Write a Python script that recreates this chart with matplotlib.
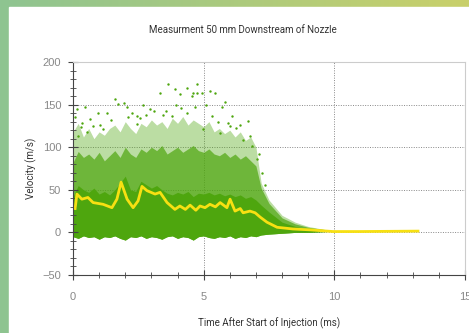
import numpy as np
import matplotlib
matplotlib.use('Agg')
import matplotlib.pyplot as plt
from matplotlib.colors import LinearSegmentedColormap
from matplotlib.patches import Rectangle

# mean velocity (yellow line)
mean_t = [0.08, 0.15, 0.34, 0.57, 0.77, 1.15, 1.49, 1.68, 1.84, 2.07, 2.30, 2.49,
          2.64, 2.83, 3.14, 3.33, 3.60, 3.90, 4.09, 4.30, 4.48, 4.70, 4.86, 5.05,
          5.24, 5.45, 5.63, 5.89, 6.01, 6.20, 6.40, 6.51, 6.77, 6.97, 7.16, 7.42,
          7.81, 8.42, 9.07, 9.95, 10.98, 13.2]
mean_v = [28, 45, 39, 41, 35, 33, 29, 39, 59, 39, 29, 37,
          54, 49, 45, 47, 35, 27, 31, 27, 32, 26, 31, 29,
          33, 30, 35, 29, 39, 25, 28, 23, 25, 23, 18, 12,
          6, 4, 3, 1, 1, 1.5]

# envelope of the measured point cloud
band_t = [0, 0.2, 0.4, 0.6, 0.8, 1.0, 1.2, 1.4, 1.6, 1.8, 2.0, 2.2, 2.4, 2.6, 2.8,
          3.0, 3.2, 3.4, 3.6, 3.8, 4.0, 4.2, 4.4, 4.6, 4.8, 5.0, 5.2, 5.4, 5.6,
          5.8, 6.0, 6.2, 6.4, 6.6, 6.8, 7.0, 7.2, 7.5, 8.0, 8.5, 9.0, 9.7]
band_lo = [-5, -7, -4, -6, -5, -8, -5, -6, -4, -7, -9, -5, -6, -4, -7,
           -5, -6, -8, -5, -4, -7, -5, -6, -9, -5, -4, -6, -7, -5,
           -6, -4, -7, -5, -6, -4, -5, -3, -2, -1, 0, 0, 1]
core_hi = [42, 55, 50, 47, 52, 45, 48, 44, 50, 58, 66, 50, 48, 60, 56,
           52, 55, 50, 46, 44, 47, 45, 48, 42, 46, 45, 47, 44, 46,
           43, 45, 42, 44, 40, 42, 38, 32, 24, 12, 7, 4, 2]
mid_hi = [82, 95, 88, 92, 86, 94, 84, 90, 96, 88, 100, 92, 88, 98, 94,
          100, 96, 102, 92, 96, 100, 94, 98, 102, 96, 94, 98, 92, 90,
          94, 88, 92, 86, 90, 84, 78, 52, 34, 17, 10, 6, 3]
outer_hi = [118, 128, 112, 122, 110, 118, 114, 122, 126, 118, 130, 122, 116, 128, 124,
            132, 126, 130, 122, 134, 128, 136, 126, 132, 128, 124, 130, 118, 122,
            116, 120, 112, 118, 108, 112, 100, 58, 38, 20, 12, 7, 3]

# sparse high-velocity points
pts_t = [0.14, 0.08, 0.46, 0.65, 0.77, 1.61, 1.72, 2.05, 2.10, 2.44, 2.68, 2.95,
         3.33, 3.64, 3.90, 4.09, 4.35, 4.54, 4.73, 3.56, 3.80, 4.35, 2.44, 1.15,
         0.20, 4.73, 4.60, 4.93, 5.24, 5.43, 5.82, 5.69, 4.67, 5.31, 6.07, 6.71,
         6.01, 6.77, 6.52, 5.63, 4.99, 7.35, 7.03, 6.84, 1.30, 0.35, 2.80, 3.10,
         1.95, 0.95, 5.10, 6.40, 0.55, 1.05, 1.45, 2.25, 3.45, 4.15, 5.55, 6.25,
         7.10, 7.25, 0.30, 2.55, 3.95, 5.95]
pts_v = [145, 135, 147, 133, 125, 156, 151, 147, 135, 137, 149, 145,
         164, 174, 168, 162, 170, 160, 164, 143, 137, 140, 127, 121,
         113, 174, 164, 164, 166, 164, 153, 147, 147, 137, 137, 131,
         125, 113, 109, 117, 121, 56, 86, 101, 140, 128, 138, 142,
         152, 140, 150, 126, 118, 126, 132, 140, 138, 146, 130, 122,
         92, 70, 124, 134, 150, 128]

green = '#4ea60e'

fig = plt.figure(figsize=(4.69, 3.33), dpi=100)

# decorative frame
bg = fig.add_axes([0, 0, 1, 1])
cmap = LinearSegmentedColormap.from_list('frame', ['#8ec491', '#c9d06a'])
bg.imshow(np.linspace(0, 1, 256)[None, :], aspect='auto', cmap=cmap,
          extent=[0, 469, 0, 333])
bg.add_patch(Rectangle((9, 0), 460, 326, color='white'))
bg.set_xlim(0, 469)
bg.set_ylim(0, 333)
bg.axis('off')

ax = fig.add_axes([73 / 469, 1 - 275 / 333, 392 / 469, 213 / 333])
ax.fill_between(band_t, band_lo, outer_hi, color=green, alpha=0.38, lw=0)
ax.fill_between(band_t, band_lo, mid_hi, color=green, alpha=0.7, lw=0)
ax.fill_between(band_t, band_lo, core_hi, color=green, lw=0)
ax.scatter(pts_t, pts_v, s=3, color=green, lw=0)
ax.plot(mean_t, mean_v, color='#f7e012', lw=2.0)

ax.set_xlim(0, 15)
ax.set_ylim(-50, 200)
ax.set_xticks([0, 5, 10, 15])
ax.set_yticks([-50, 0, 50, 100, 150, 200])
ax.set_xticks(np.arange(0, 16, 1), minor=True)
ax.set_yticks(np.arange(-50, 201, 10), minor=True)
ax.tick_params(which='major', direction='inout', length=7, width=0.8,
               color='#444444', labelsize=8, labelcolor='#888888')
ax.tick_params(axis='x', which='major', pad=9)
ax.tick_params(axis='y', which='major', pad=5)
ax.tick_params(which='minor', direction='inout', length=4, width=0.6, color='#444444')
ax.tick_params(top=False, right=False, which='both')
for lab in ax.get_xticklabels() + ax.get_yticklabels():
    lab.set_family('Liberation Sans')

for y in [0, 50, 100, 150]:
    ax.axhline(y, color='#888888', lw=0.7, ls=(0, (1, 1.5)), zorder=0)
for x in [5, 10]:
    ax.axvline(x, color='#888888', lw=0.7, ls=(0, (1, 1.5)), zorder=0)

ax.spines['left'].set_color('#444444')
ax.spines['bottom'].set_color('#444444')
ax.spines['top'].set_color('#cccccc')
ax.spines['right'].set_color('#cccccc')
for s in ax.spines.values():
    s.set_linewidth(0.8)

ax.set_xlabel('Time After Start of Injection (ms)', family='Roboto', fontsize=7,
              color='#333333', labelpad=11)
ax.set_ylabel('Velocity (m/s)', family='Roboto', fontsize=7, color='#333333', labelpad=4)
fig.text(243 / 469, 1 - 30 / 333, 'Measurment 50 mm Downstream of Nozzle',
         family='Roboto', fontsize=7, color='#333333', ha='center', va='center')

fig.savefig('out.png', dpi=100)
